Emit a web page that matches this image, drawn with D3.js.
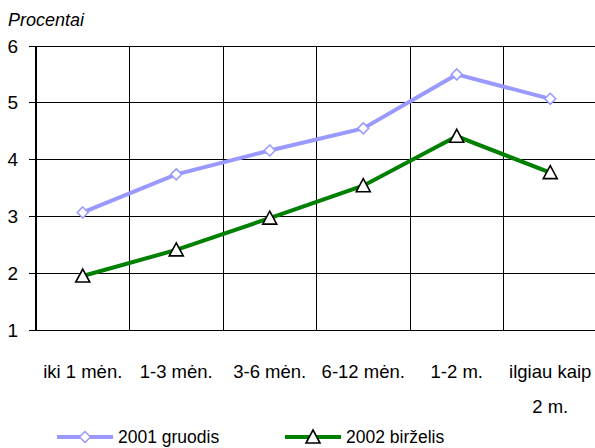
<!DOCTYPE html>
<html><head><meta charset="utf-8">
<script src="https://cdn.jsdelivr.net/npm/d3@7"></script>
<style>body{margin:0;background:#fff}svg{display:block}text{font-family:"Liberation Sans",Arial,sans-serif;fill:#000}</style>
</head><body>
<script>
const categories = ["iki 1 mėn.", "1-3 mėn.", "3-6 mėn.", "6-12 mėn.", "1-2 m.", "ilgiau kaip\n2 m."];
const series2001 = [3.07, 3.74, 4.16, 4.55, 5.50, 5.07];
const series2002 = [1.95, 2.41, 2.97, 3.54, 4.41, 3.77];
const seriesNames = ["2001 gruodis", "2002 birželis"];
const yTicks = [1, 2, 3, 4, 5, 6];
const yTitle = "Procentai";

(function () {
const W = 595, H = 448;
const svg = d3.select("body").append("svg").attr("width", W).attr("height", H);
const mLeft = 36, mTop = 46, mBottom = 330, mRight = 597;
const x = d3.scaleBand().domain(d3.range(categories.length)).range([mLeft, mRight]);
const y = d3.scaleLinear().domain([1, 6]).range([mBottom, mTop]);

svg.append("g").selectAll("line").data(yTicks).join("line")
  .attr("x1", mLeft - 7).attr("x2", W).attr("y1", d => y(d)).attr("y2", d => y(d))
  .attr("stroke", "#000").attr("stroke-width", 1).attr("shape-rendering", "crispEdges");
svg.append("g").selectAll("line").data(d3.range(1, categories.length)).join("line")
  .attr("x1", d => x(d)).attr("x2", d => x(d)).attr("y1", mTop).attr("y2", mBottom)
  .attr("stroke", "#000").attr("stroke-width", 1).attr("shape-rendering", "crispEdges");
svg.append("line").attr("x1", mLeft).attr("x2", mLeft).attr("y1", mTop).attr("y2", mBottom)
  .attr("stroke", "#000").attr("stroke-width", 1.5).attr("shape-rendering", "crispEdges");
svg.append("g").selectAll("text").data(yTicks).join("text")
  .attr("x", 18).attr("y", d => y(d) + 6.5).attr("text-anchor", "end")
  .attr("font-size", 19).text(d => d);
svg.append("text").attr("x", 8).attr("y", 26).attr("font-size", 18)
  .attr("font-style", "italic").text(yTitle);

const cx = i => x(i) + x.bandwidth() / 2;
categories.forEach((c, i) => {
  c.split("\n").forEach((l, j) => {
    svg.append("text").attr("x", cx(i)).attr("y", 378 + j * 35)
      .attr("text-anchor", "middle").attr("font-size", 18.5).text(l);
  });
});

const line = d3.line().x((d, i) => cx(i)).y(d => y(d));
const c1 = "#9999FF", c2 = "#008000";
svg.append("path").datum(series2001).attr("d", line).attr("fill", "none")
  .attr("stroke", c1).attr("stroke-width", 4);
svg.append("path").datum(series2002).attr("d", line).attr("fill", "none")
  .attr("stroke", c2).attr("stroke-width", 4);

const dia = "M0,-5.5L5.5,0L0,5.5L-5.5,0Z";
const tri = "M0,-7L7,6L-7,6Z";
svg.append("g").selectAll("path").data(series2001).join("path")
  .attr("transform", (d, i) => `translate(${cx(i)},${y(d)})`)
  .attr("d", dia).attr("fill", "#fff").attr("stroke", c1).attr("stroke-width", 1.5);
svg.append("g").selectAll("path").data(series2002).join("path")
  .attr("transform", (d, i) => `translate(${cx(i)},${y(d)})`)
  .attr("d", tri).attr("fill", "#fff").attr("stroke", "#000").attr("stroke-width", 1.6);

const lg = svg.append("g");
lg.append("line").attr("x1", 57).attr("x2", 113).attr("y1", 437).attr("y2", 437).attr("stroke", c1).attr("stroke-width", 4);
lg.append("path").attr("transform", "translate(85,437)").attr("d", dia).attr("fill", "#fff").attr("stroke", c1).attr("stroke-width", 1.5);
lg.append("text").attr("x", 118).attr("y", 443).attr("font-size", 17.5).text(seriesNames[0]);
lg.append("line").attr("x1", 285).attr("x2", 341).attr("y1", 437).attr("y2", 437).attr("stroke", c2).attr("stroke-width", 4);
lg.append("path").attr("transform", "translate(313,437)").attr("d", tri).attr("fill", "#fff").attr("stroke", "#000").attr("stroke-width", 1.6);
lg.append("text").attr("x", 346).attr("y", 443).attr("font-size", 17.5).text(seriesNames[1]);
})();
</script>
</body></html>
